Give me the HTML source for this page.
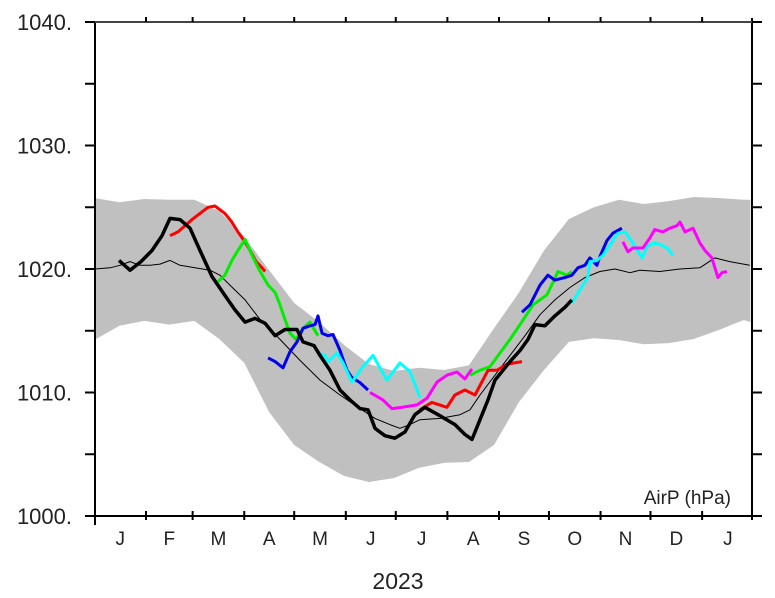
<!DOCTYPE html>
<html><head><meta charset="utf-8"><style>
html,body{margin:0;padding:0;background:#fff;}
svg{display:block;font-family:"Liberation Sans","DejaVu Sans",sans-serif;}
</style></head><body>
<svg id="chart" width="775" height="598" viewBox="0 0 775 598"></svg>
<script>
const yTicks=[1000,1010,1020,1030,1040];
const yTickLabels=["1000.","1010.","1020.","1030.","1040."];
const monthLabels=["J","F","M","A","M","J","J","A","S","O","N","D","J"];
const monthStarts=[0,31,59,90,120,151,181,212,243,273,304,334,365,396];
const bandDays=[0,15,30,45,60,75,90,105,120,135,150,165,180,195,210,225,240,255,270,285,300,315,330,345,360,375,390,394];
const bandUpper=[1025.75,1025.4,1025.67,1025.6,1025.6,1024.7,1022.6,1019.9,1017.25,1015.7,1013.85,1012.3,1011.74,1012.0,1011.82,1012.2,1015.2,1018.1,1021.5,1024.05,1025.0,1025.6,1025.26,1025.5,1025.83,1025.75,1025.6,1025.6];
const bandLower=[1014.25,1015.4,1015.8,1015.5,1015.8,1014.33,1012.4,1008.4,1005.75,1004.37,1003.24,1002.75,1003.08,1003.9,1004.3,1004.37,1005.75,1009.23,1011.82,1014.1,1014.4,1014.25,1013.9,1014.0,1014.33,1015.06,1015.87,1015.7];
const climDays=[0.4,9.4,15.4,21.4,27.4,33.4,39.4,45.4,51.4,60.4,69.4,75.4,81.4,90.5,99.5,111.5,123.5,135.5,147.5,159.5,168.5,177.5,183.5,189.5,195.5,207.6,219.6,225.6,231.6,240.6,249.6,258.6,267.6,276.6,285.6,294.6,303.6,312.6,321.6,327.6,339.6,351.6,363.6,372.6,381.6,393.6];
const climVals=[1020.0,1020.1,1020.3,1020.6,1020.3,1020.3,1020.4,1020.7,1020.3,1020.1,1019.9,1019.5,1018.7,1017.5,1015.9,1014.3,1012.6,1011.0,1009.8,1008.7,1007.9,1007.4,1007.1,1007.4,1007.8,1007.9,1008.2,1008.6,1009.8,1011.4,1013.0,1014.6,1016.3,1017.5,1018.5,1019.3,1019.8,1020.0,1019.7,1019.9,1019.8,1020.0,1020.1,1020.9,1020.6,1020.3];
const obsDays=[14.8,21.4,28,34.6,40.6,45.4,51.4,57.4,63.4,70.6,77.2,84.4,90.5,96.5,102.5,108.5,114.5,121.7,125.3,131.9,135.5,141.5,147.5,153.5,159.5,164.3,168.5,174.5,180.5,186.5,192.5,198.5,206.4,216.6,222.6,226.8,231.6,236.4,240.6,249.6,255.6,260.4,264.6,270.6,276.6,282.6,286.8];
const obsVals=[1020.7,1019.9,1020.6,1021.5,1022.7,1024.1,1024.0,1023.3,1021.5,1019.4,1018.1,1016.7,1015.7,1016.0,1015.6,1014.6,1015.1,1015.1,1014.1,1013.8,1013.0,1011.8,1010.2,1009.4,1008.7,1008.6,1007.1,1006.5,1006.3,1006.8,1008.2,1008.8,1008.2,1007.4,1006.6,1006.2,1007.8,1009.4,1011.0,1012.5,1013.4,1014.3,1015.5,1015.4,1016.2,1016.9,1017.5];
const redDays1=[45.4,50.2,54.4,58.6,63.4,68.2,72.4,75.4,78.4,82.6,86.2,89.9,93.5,97.1,100.7,102.5];
const redVals1=[1022.7,1023.0,1023.5,1024.0,1024.5,1025.0,1025.1,1024.8,1024.5,1023.8,1023.0,1022.3,1021.5,1020.6,1020.1,1019.8];
const redDays2=[195.5,202.7,211.7,216.5,222.5,228.6,236.4,241.8,247.8,256.8];
const redVals2=[1008.6,1009.2,1008.8,1009.8,1010.2,1009.8,1011.8,1011.8,1012.3,1012.5];
const greenDays1=[73.6,78.4,82.6,86.2,90.5,94.7,99.5,104.3,108.5,111.5,114.5,117.5,121.1,125.3,129.5,134.3];
const greenVals1=[1018.9,1019.5,1020.7,1021.5,1022.4,1021.1,1019.8,1018.7,1018.1,1017.1,1015.9,1014.8,1014.3,1015.2,1015.7,1014.6];
const greenDays2=[225.6,231.6,237.6,243.6,249.6,255.6,263.4,271.8,275.4,278.4,283.8,286.8];
const greenVals2=[1011.4,1011.8,1012.1,1013.2,1014.3,1015.5,1017.1,1017.9,1018.9,1019.8,1019.5,1019.8];
const blueDays1=[104.3,108.5,113.3,117.5,121.7,125.3,129.5,132.5,134.3,136.7,140.3,143.3,147.5,151.7,154.7,159.5,164.3];
const blueVals1=[1012.8,1012.5,1012.0,1013.3,1014.1,1015.2,1015.4,1015.5,1016.2,1014.8,1014.6,1014.7,1013.4,1011.8,1011.2,1010.8,1010.2];
const blueDays2=[256.8,261.6,267.6,272.4,276.6,282.6,286.8,290.4,294.6,297.6,301.8,303.6,307.8,311.4,316.8];
const blueVals2=[1016.5,1017.1,1018.7,1019.5,1019.1,1019.3,1019.5,1020.1,1020.3,1020.9,1020.3,1021.0,1022.3,1022.9,1023.3];
const cyanDays1=[134.3,138.5,140.3,145.7,149.3,154.7,161.3,167.3,175.7,183.5,189.5,195.5];
const cyanVals1=[1013.2,1013.0,1012.5,1013.2,1012.4,1010.85,1012.1,1013.0,1011.0,1012.4,1011.7,1009.6];
const cyanDays2=[286.8,291.6,296.4,297.6,301.8,305.4,311.4,314.4,318.6,322.9,328.9,331.9,335.5,339.7,343.9,347.5];
const cyanVals2=[1017.25,1018.3,1019.35,1020.6,1020.7,1021.1,1022.3,1022.9,1023.0,1022.2,1020.9,1021.8,1022.1,1022.0,1021.7,1021.1];
const magDays1=[165.5,173.3,178.7,184.7,193.8,199.8,205.8,211.7,217.7,222.5,226.8];
const magVals1=[1010.0,1009.4,1008.7,1008.8,1009.0,1009.55,1010.85,1011.4,1011.66,1011.1,1011.9];
const magDays2=[317.4,320.4,323.4,329.4,333.6,336.6,341.4,345.6,349.8,351.7,354.7,359.5,363.7,366.7,370.9,374.5,376.9,379.9];
const magVals2=[1022.2,1021.4,1021.7,1021.7,1022.5,1023.2,1023.0,1023.3,1023.5,1023.8,1023.0,1023.3,1022.1,1021.5,1020.9,1019.3,1019.7,1019.8];

const NS="http://www.w3.org/2000/svg";
const svg=document.getElementById('chart');
const L=95,R=752,T=22,B=516;
function xS(d){return 94.4+d*1.665;}
function yS(v){return T+(1040-v)*(B-T)/40;}
function mk(tag,attrs,parent){const e=document.createElementNS(NS,tag);for(const k in attrs)e.setAttribute(k,attrs[k]);(parent||svg).appendChild(e);return e;}

// band
let bd="";
bandDays.forEach((d,i)=>{bd+=(i?"L":"M")+xS(d).toFixed(1)+","+yS(bandUpper[i]).toFixed(1);});
for(let i=bandDays.length-1;i>=0;i--)bd+="L"+xS(bandDays[i]).toFixed(1)+","+yS(bandLower[i]).toFixed(1);
const band=mk('path',{d:bd+"Z",fill:"#c0c0c0",stroke:"none","clip-path":"url(#pc)"});


const defs=mk('defs',{});
const cp=mk('clipPath',{id:'pc'},defs);
mk('rect',{x:L,y:T,width:R-L,height:B-T},cp);

function line(days,vals,color,w,name){
  let d="";days.forEach((x,i)=>{d+=(i?"L":"M")+xS(x).toFixed(1)+","+yS(vals[i]).toFixed(1);});
  const p=mk('path',{d:d,fill:"none",stroke:color,"stroke-width":w,"stroke-linejoin":"round","clip-path":"url(#pc)"});
  
  
}
line(climDays,climVals,"#000",1,"climatology-line");
line(redDays1,redVals1,"#ff0000",3,"red-series-1");
line(redDays2,redVals2,"#ff0000",3,"red-series-2");
line(greenDays1,greenVals1,"#00ee00",3,"green-series-1");
line(greenDays2,greenVals2,"#00ee00",3,"green-series-2");
line(blueDays1,blueVals1,"#0000ee",3,"blue-series-1");
line(blueDays2,blueVals2,"#0000ee",3,"blue-series-2");
line(cyanDays1,cyanVals1,"#00ffff",3,"cyan-series-1");
line(cyanDays2,cyanVals2,"#00ffff",3,"cyan-series-2");
line(magDays1,magVals1,"#ff00ff",3,"magenta-series-1");
line(magDays2,magVals2,"#ff00ff",3,"magenta-series-2");
line(obsDays,obsVals,"#000",3.5,"observed-line");

// axes
const ax=mk('g',{stroke:"#000","stroke-width":2});


mk('line',{x1:L,y1:T,x2:L,y2:525},ax);
mk('line',{x1:R,y1:T-4,x2:R,y2:B+4},ax);
mk('line',{x1:L-10,y1:T,x2:R,y2:T,stroke:"#444"},ax);
mk('line',{x1:L-10,y1:B,x2:R,y2:B},ax);
for(let v=1000;v<=1040;v+=5){
  mk('line',{x1:L-10,y1:yS(v),x2:L,y2:yS(v)},ax);
  mk('line',{x1:R,y1:yS(v),x2:R+10,y2:yS(v)},ax);
}
monthStarts.forEach(d=>{
  const x=xS(d); if(x<L+2||x>R-2)return;
  mk('line',{x1:x,y1:T-5,x2:x,y2:T},ax);
  mk('line',{x1:x,y1:B-5,x2:x,y2:B+4},ax);
});
yTicks.forEach((v,i)=>{
  const t=mk('text',{x:72,y:yS(v)+8,"text-anchor":"end","font-size":22,fill:"#222"});
  t.textContent=yTickLabels[i];
  
  
});
monthLabels.forEach((m,i)=>{
  const x=(xS(monthStarts[i])+xS(monthStarts[i+1]))/2;
  const t=mk('text',{x:x,y:545,"text-anchor":"middle","font-size":19,fill:"#222"});
  t.textContent=m;
  
  
});
const yr=mk('text',{x:398,y:589,"text-anchor":"middle","font-size":23,fill:"#222"});
yr.textContent="2023";


const un=mk('text',{x:731,y:504,"text-anchor":"end","font-size":19,fill:"#222"});
un.textContent="AirP (hPa)";


</script>
</body></html>
